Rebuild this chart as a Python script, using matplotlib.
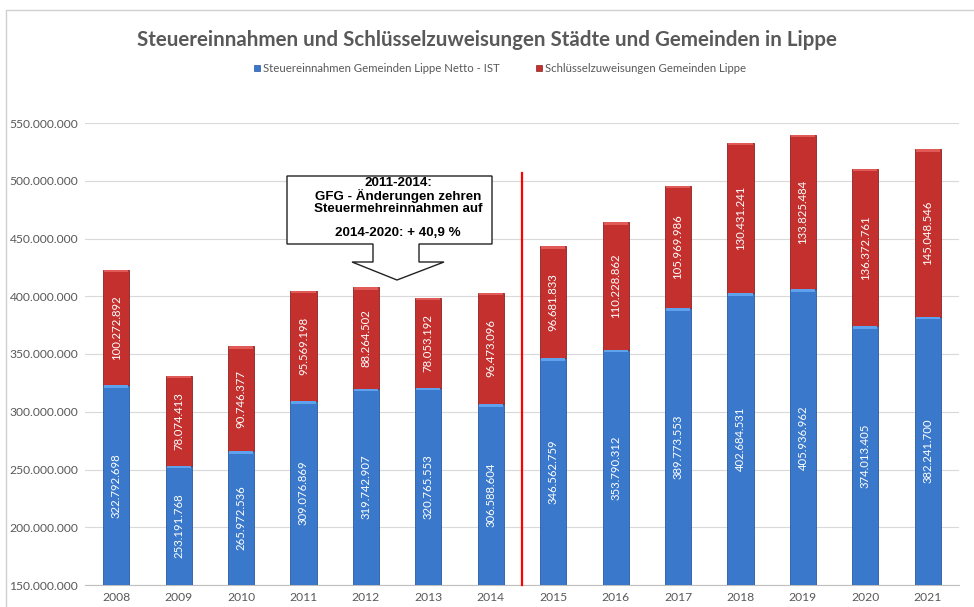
import matplotlib
matplotlib.use("Agg")
import matplotlib.pyplot as plt
from matplotlib.patches import Polygon, Rectangle
import numpy as np

years = ["2008", "2009", "2010", "2011", "2012", "2013", "2014",
         "2015", "2016", "2017", "2018", "2019", "2020", "2021"]
steuer = [322792698, 253191768, 265972536, 309076869, 319742907, 320765553, 306588604,
          346562759, 353790312, 389773553, 402684531, 405936962, 374013405, 382241700]
schluessel = [100272892, 78074413, 90746377, 95569198, 88264502, 78053192, 96473096,
              96681833, 110228862, 105969986, 130431241, 133825484, 136372761, 145048546]
series_names = ["Steuereinnahmen Gemeinden Lippe Netto - IST",
                "Schlüsselzuweisungen Gemeinden Lippe"]
title = "Steuereinnahmen und Schlüsselzuweisungen Städte und Gemeinden in Lippe"
note_lines = ["2011-2014:", "GFG - Änderungen zehren", "Steuermehreinnahmen auf", "", "2014-2020: + 40,9 %"]
ymin, ymax = 150_000_000, 550_000_000
yticks = np.arange(150_000_000, 550_000_001, 50_000_000)

def fmt(v):
    return f"{int(v):,}".replace(",", ".")

FONT = "Lato"
TXT = "#595959"
BLUE, BLUE_HI, BLUE_EDGE = "#3a78cc", "#5ea2ee", "#2a5a9e"
RED, RED_HI, RED_EDGE = "#c4302e", "#e05a58", "#8e2220"

fig = plt.figure(figsize=(9.74, 6.07), dpi=100)
fig.patch.set_facecolor("white")
# outer chart border
fig.add_artist(Rectangle((6/974, -0.01), 1.0, (607-10)/607 + 0.01, transform=fig.transFigure,
                         fill=False, edgecolor="#d0d0d0", linewidth=1.0))

ax = fig.add_axes([85/974, 22/607, (959-85)/974, (585-123)/607])
x = np.arange(len(years))
w = 0.42
base = np.array(steuer)
top = np.array(schluessel)

ax.bar(x, base - ymin, bottom=ymin, width=w, color=BLUE, edgecolor=BLUE_EDGE, linewidth=0.6, zorder=3)
ax.bar(x, top, bottom=base, width=w, color=RED, edgecolor=RED_EDGE, linewidth=0.6, zorder=3)
# bevel highlights
hi = 2_200_000
ax.bar(x, [hi]*len(x), bottom=base - hi, width=w*0.92, color=BLUE_HI, linewidth=0, zorder=4)
ax.bar(x, [hi]*len(x), bottom=base + top - hi, width=w*0.92, color=RED_HI, linewidth=0, zorder=4)

for i in range(len(x)):
    ax.text(x[i], (ymin + base[i]) / 2 + 0, fmt(base[i]), rotation=90, ha="center", va="center",
            color="white", fontsize=8.2, family=FONT, zorder=5)
    ax.text(x[i], base[i] + top[i] / 2, fmt(top[i]), rotation=90, ha="center", va="center",
            color="white", fontsize=8.2, family=FONT, zorder=5)

ax.set_xlim(-0.5, len(x) - 0.5)
ax.set_ylim(ymin, ymax)
ax.set_yticks(yticks)
ax.set_yticklabels([fmt(v) for v in yticks], family=FONT, fontsize=8.7, color=TXT)
ax.set_xticks(x)
ax.set_xticklabels(years, family=FONT, fontsize=8.7, color=TXT)
ax.tick_params(length=0, pad=5)
ax.grid(axis="y", color="#d9d9d9", linewidth=0.8, zorder=0)
for s in ["top", "right", "left"]:
    ax.spines[s].set_visible(False)
ax.spines["bottom"].set_color("#bfbfbf")
ax.set_axisbelow(True)

# red divider
ax.plot([6.5, 6.5], [ymin, 507_000_000], color="#ff0000", linewidth=1.6, zorder=6, clip_on=False)

# title & legend
fig.text(487/974, 1 - 40/607, title, ha="center", va="center", family=FONT,
         fontsize=14.8, fontweight="bold", color=TXT)
ly = 1 - 68/607
sq = 6/974
fig.add_artist(Rectangle((254/974, ly - 3/607), sq, 6/607, transform=fig.transFigure,
                         facecolor=BLUE, edgecolor=BLUE_EDGE, linewidth=0.5))
fig.text(263/974, ly, series_names[0], ha="left", va="center", family=FONT, fontsize=8.2, color=TXT)
fig.add_artist(Rectangle((536/974, ly - 3/607), sq, 6/607, transform=fig.transFigure,
                         facecolor=RED, edgecolor=RED_EDGE, linewidth=0.5))
fig.text(545/974, ly, series_names[1], ha="left", va="center", family=FONT, fontsize=8.2, color=TXT)

# callout box with down arrow (figure pixel coords)
pts = [(287, 176), (492, 176), (492, 244), (419, 244), (419, 262), (444, 262),
       (397, 280), (352, 262), (373, 262), (373, 244), (287, 244)]
poly = Polygon([(px/974, 1 - py/607) for px, py in pts], closed=True, transform=fig.transFigure,
               facecolor="white", edgecolor="#222222", linewidth=1.0, zorder=10)
fig.add_artist(poly)
fig.text(398/974, 1 - 208/607, "\n".join(note_lines), ha="center", va="center",
         family="Liberation Sans", fontsize=9.6, fontweight="bold", color="black",
         linespacing=0.98, zorder=11)

fig.savefig("out.png", dpi=100)
